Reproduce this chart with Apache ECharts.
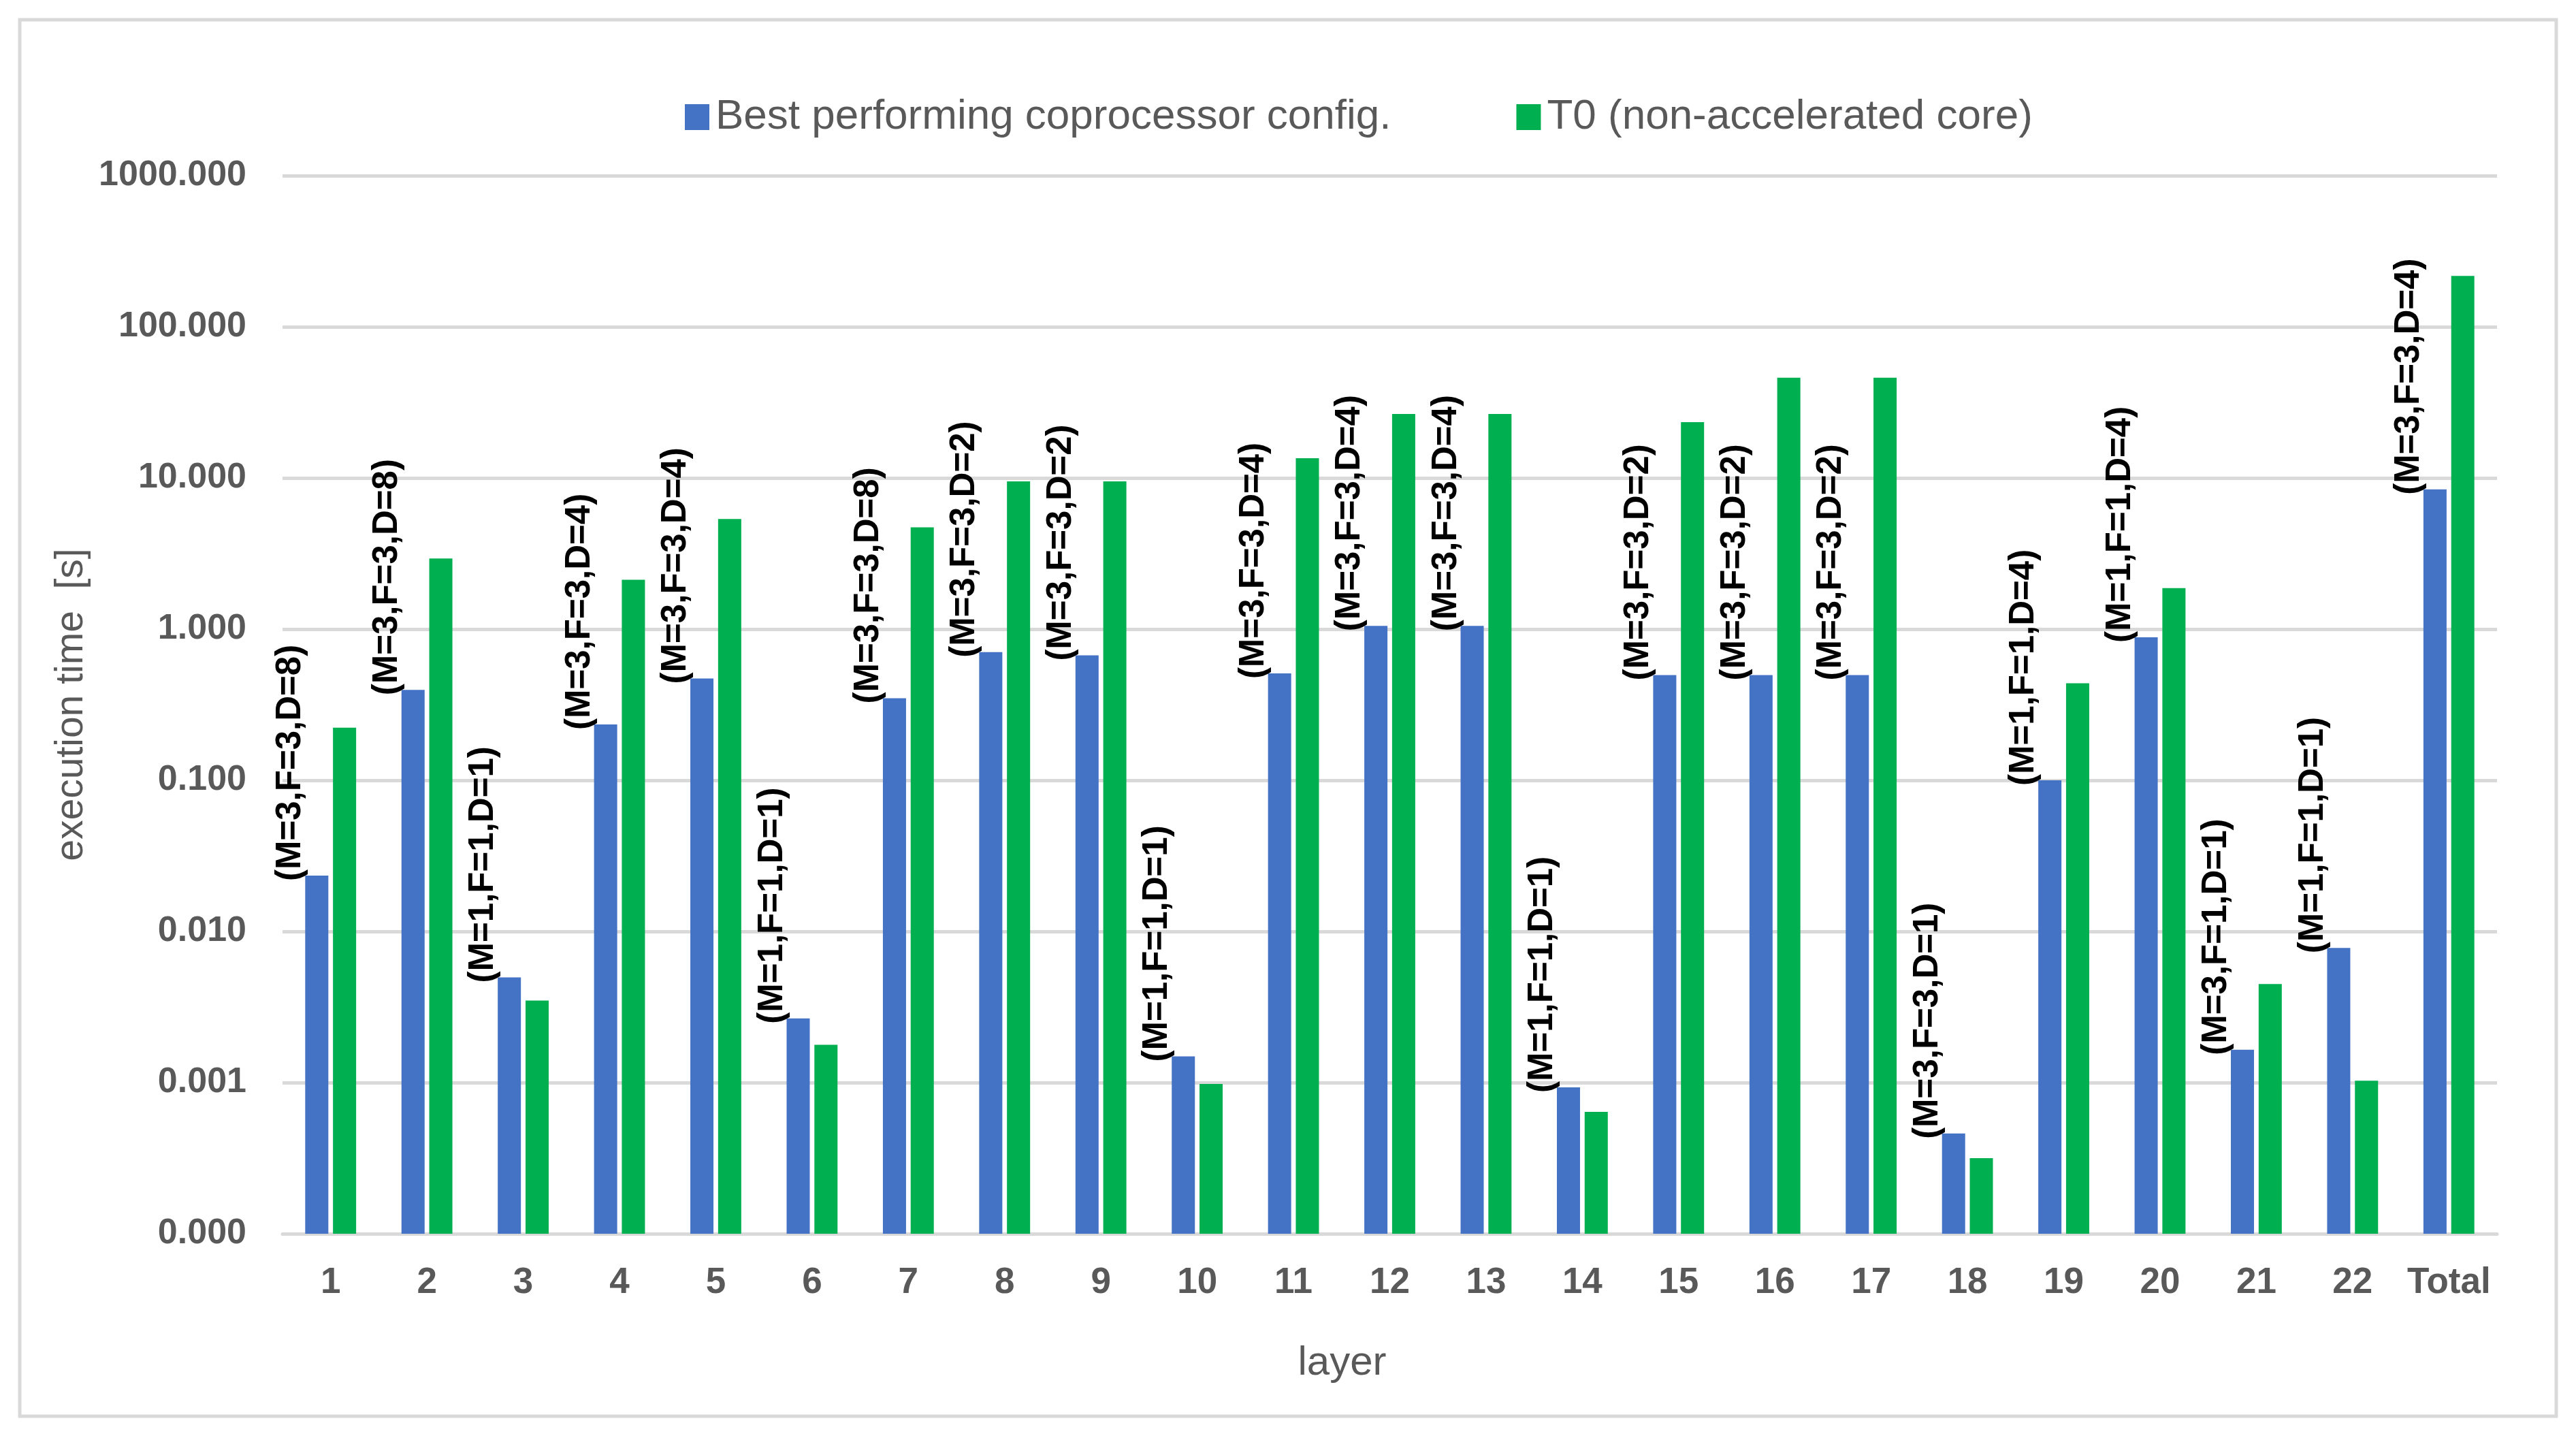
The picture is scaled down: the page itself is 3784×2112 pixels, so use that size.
<!DOCTYPE html>
<html>
<head>
<meta charset="utf-8">
<script src="https://cdn.jsdelivr.net/npm/echarts@6/dist/echarts.min.js"></script>
<style>
html,body{margin:0;padding:0;background:#fff;}
#c{width:3784px;height:2112px;}
</style>
</head>
<body>
<div id="c"></div>
<script>
const categories = ['1','2','3','4','5','6','7','8','9','10','11','12','13','14','15','16','17','18','19','20','21','22','Total'];
const bestValues = [0.0234,0.396,0.00497,0.234,0.472,0.00266,0.349,0.705,0.67,0.00149,0.509,1.05,1.05,0.00093,0.497,0.497,0.497,0.00046,0.100,0.883,0.00165,0.00778,8.4];
const t0Values = [0.223,2.93,0.00349,2.12,5.35,0.00178,4.72,9.5,9.5,0.00098,13.5,26.5,26.5,0.00064,23.4,46,46,0.000316,0.438,1.87,0.00449,0.00103,217];
const configLabels = ['(M=3,F=3,D=8)','(M=3,F=3,D=8)','(M=1,F=1,D=1)','(M=3,F=3,D=4)','(M=3,F=3,D=4)','(M=1,F=1,D=1)','(M=3,F=3,D=8)','(M=3,F=3,D=2)','(M=3,F=3,D=2)','(M=1,F=1,D=1)','(M=3,F=3,D=4)','(M=3,F=3,D=4)','(M=3,F=3,D=4)','(M=1,F=1,D=1)','(M=3,F=3,D=2)','(M=3,F=3,D=2)','(M=3,F=3,D=2)','(M=3,F=3,D=1)','(M=1,F=1,D=4)','(M=1,F=1,D=4)','(M=3,F=1,D=1)','(M=1,F=1,D=1)','(M=3,F=3,D=4)'];
const seriesNames = ['Best performing coprocessor config.','T0 (non-accelerated core)'];

const FONT = 'Liberation Sans';
const TXT = '#595959';
const chart = echarts.init(document.getElementById('c'), null, {renderer:'canvas'});
chart.setOption({
  animation:false,
  backgroundColor:'#ffffff',
  graphic:[{type:'rect',shape:{x:29,y:29,width:3726,height:2051},style:{fill:'none',stroke:'#d9d9d9',lineWidth:5},silent:true}],
  legend:{
    left:1001, top:136, itemWidth:36, itemHeight:38, itemGap:184,
    icon:'rect',
    textStyle:{fontFamily:FONT,fontSize:62,color:TXT,padding:[0,0,0,4]},
    data:seriesNames
  },
  grid:{left:415,right:116,top:258,bottom:300,containLabel:false},
  xAxis:{
    type:'category', data:categories,
    axisLine:{show:true,lineStyle:{color:'#d9d9d9',width:5}},
    axisTick:{show:false},
    axisLabel:{fontFamily:FONT,fontSize:53,fontWeight:'bold',color:TXT,margin:46,interval:0},
    name:'layer', nameLocation:'middle', nameGap:160,
    nameTextStyle:{fontFamily:FONT,fontSize:60,color:TXT,padding:[0,140,0,0]}
  },
  yAxis:{
    type:'log', logBase:10, min:0.0001, max:1000, startValue:0.0001,
    axisLine:{show:false}, axisTick:{show:false},
    splitLine:{show:true,lineStyle:{color:'#d9d9d9',width:5}},
    axisLabel:{fontFamily:FONT,fontSize:52,fontWeight:'bold',color:TXT,margin:53,
      formatter:function(v){return Number(v).toFixed(3);}},
    name:'execution time  [s]', nameLocation:'middle', nameGap:250,
    nameTextStyle:{fontFamily:FONT,fontSize:57,color:TXT}
  },
  series:[
    {name:seriesNames[0], type:'bar', data:bestValues, barWidth:34, barGap:'20%',
     itemStyle:{color:'#4472C4'},
     label:{show:true, position:'top', distance:0, rotate:90, align:'left', verticalAlign:'middle',
       offset:[-8,-38], fontFamily:FONT, fontSize:51, fontWeight:'bold', color:'#000',
       formatter:function(p){return configLabels[p.dataIndex];}}
    },
    {name:seriesNames[1], type:'bar', data:t0Values, barWidth:34, barGap:'20%',
     itemStyle:{color:'#00B050'}}
  ]
});
</script>
</body>
</html>
